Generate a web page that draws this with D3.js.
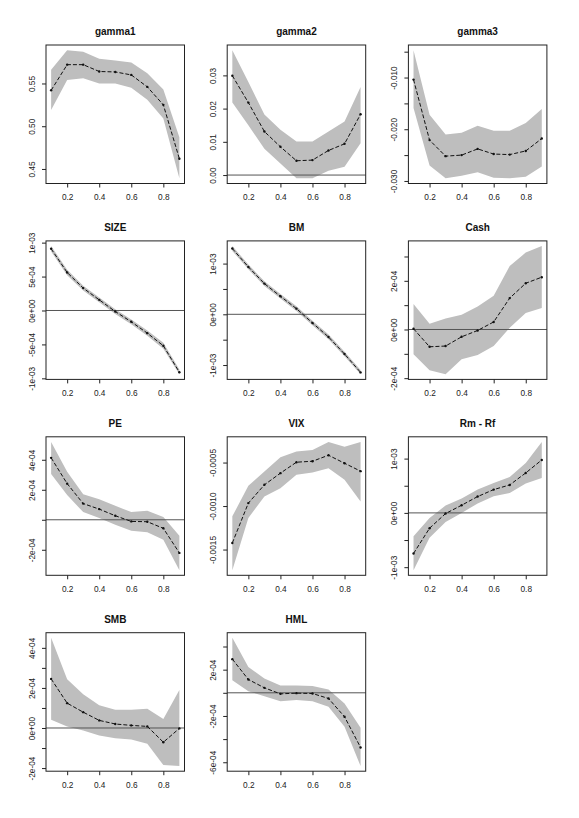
<!DOCTYPE html>
<html>
<head>
<meta charset="utf-8">
<script src="https://cdn.jsdelivr.net/npm/d3@7"></script>
<style>
  body { margin: 0; background: #fff; }
  svg { display: block; font-family: "Liberation Sans", Arial, sans-serif; }
</style>
</head>
<body>
<div id="main"></div>
<script>
// quantile grid shared by every panel
const quantiles = [0.1, 0.2, 0.3, 0.4, 0.5, 0.6, 0.7, 0.8, 0.9];
const xTicks = [0.2, 0.4, 0.6, 0.8];

// estimates, lower and upper band per coefficient
const estGamma1 = [0.542, 0.572, 0.572, 0.564, 0.5635, 0.560, 0.546, 0.525, 0.462];
const hiGamma1  = [0.566, 0.589, 0.587, 0.579, 0.577, 0.5745, 0.562, 0.543, 0.487];
const loGamma1  = [0.519, 0.554, 0.556, 0.550, 0.550, 0.545, 0.531, 0.509, 0.439];

const estGamma2 = [0.0299, 0.0218, 0.0131, 0.0085, 0.0043, 0.0045, 0.0074, 0.0094, 0.0183];
const hiGamma2  = [0.0376, 0.0280, 0.0182, 0.0136, 0.0101, 0.0101, 0.0131, 0.0161, 0.0265];
const loGamma2  = [0.0218, 0.0150, 0.0079, 0.0035, -0.0010, -0.0010, 0.0013, 0.0025, 0.0096];

const estGamma3 = [-0.0104, -0.0221, -0.0252, -0.0250, -0.0238, -0.0248, -0.0249, -0.0242, -0.0218];
const hiGamma3  = [-0.0047, -0.0172, -0.0210, -0.0207, -0.0193, -0.0203, -0.0203, -0.0188, -0.0161];
const loGamma3  = [-0.0159, -0.0270, -0.0295, -0.0290, -0.0283, -0.0294, -0.0295, -0.0292, -0.0272];

const estSize = [9.09e-4, 5.6e-4, 3.3e-4, 1.57e-4, -0.15e-4, -1.67e-4, -3.34e-4, -5.2e-4, -9.1e-4];
const hiSize  = [9.5e-4, 6.0e-4, 3.65e-4, 1.92e-4, 0.2e-4, -1.32e-4, -2.95e-4, -4.75e-4, -8.7e-4];
const loSize  = [8.7e-4, 5.2e-4, 2.95e-4, 1.22e-4, -0.5e-4, -2.02e-4, -3.73e-4, -5.65e-4, -9.4e-4];

const estBM = [1.296e-3, 0.934e-3, 0.605e-3, 0.355e-3, 0.112e-3, -0.171e-3, -0.447e-3, -0.783e-3, -1.145e-3];
const hiBM  = [1.346e-3, 0.98e-3, 0.65e-3, 0.40e-3, 0.157e-3, -0.126e-3, -0.40e-3, -0.738e-3, -1.10e-3];
const loBM  = [1.25e-3, 0.89e-3, 0.56e-3, 0.31e-3, 0.067e-3, -0.216e-3, -0.49e-3, -0.828e-3, -1.182e-3];

const estCash = [0.03e-4, -0.71e-4, -0.68e-4, -0.30e-4, -0.04e-4, 0.31e-4, 1.29e-4, 1.90e-4, 2.15e-4];
const hiCash  = [1.05e-4, 0.24e-4, 0.45e-4, 0.61e-4, 0.95e-4, 1.39e-4, 2.61e-4, 3.16e-4, 3.43e-4];
const loCash  = [-1.02e-4, -1.67e-4, -1.84e-4, -1.22e-4, -1.05e-4, -0.68e-4, 0.07e-4, 0.68e-4, 0.88e-4];

const estPE = [4.13e-4, 2.41e-4, 1.08e-4, 0.71e-4, 0.27e-4, -0.11e-4, -0.13e-4, -0.57e-4, -2.21e-4];
const hiPE  = [5.19e-4, 3.20e-4, 1.70e-4, 1.37e-4, 0.93e-4, 0.51e-4, 0.60e-4, 0.18e-4, -1.06e-4];
const loPE  = [3.05e-4, 1.66e-4, 0.51e-4, 0.11e-4, -0.33e-4, -0.73e-4, -0.84e-4, -1.33e-4, -3.36e-4];

const estVIX = [-1.424e-3, -0.966e-3, -0.756e-3, -0.622e-3, -0.496e-3, -0.485e-3, -0.416e-3, -0.508e-3, -0.599e-3];
const hiVIX  = [-1.118e-3, -0.767e-3, -0.603e-3, -0.439e-3, -0.374e-3, -0.355e-3, -0.263e-3, -0.317e-3, -0.263e-3];
const loVIX  = [-1.737e-3, -1.137e-3, -0.889e-3, -0.794e-3, -0.641e-3, -0.615e-3, -0.565e-3, -0.698e-3, -0.947e-3];

const estRmRf = [-0.748e-3, -0.282e-3, -0.012e-3, 0.141e-3, 0.301e-3, 0.429e-3, 0.515e-3, 0.736e-3, 0.975e-3];
const hiRmRf  = [-0.429e-3, -0.092e-3, 0.135e-3, 0.264e-3, 0.429e-3, 0.552e-3, 0.663e-3, 0.920e-3, 1.307e-3];
const loRmRf  = [-1.055e-3, -0.460e-3, -0.166e-3, 0, 0.172e-3, 0.307e-3, 0.368e-3, 0.540e-3, 0.644e-3];

const estSMB = [2.45e-4, 1.24e-4, 0.79e-4, 0.38e-4, 0.20e-4, 0.13e-4, 0.08e-4, -0.71e-4, -0.02e-4];
const hiSMB  = [4.5e-4, 2.43e-4, 1.69e-4, 1.14e-4, 0.91e-4, 0.91e-4, 0.96e-4, 0.45e-4, 1.90e-4];
const loSMB  = [0.41e-4, 0.08e-4, -0.13e-4, -0.38e-4, -0.51e-4, -0.58e-4, -0.79e-4, -1.85e-4, -1.90e-4];

const estHML = [2.91e-4, 1.15e-4, 0.43e-4, -0.09e-4, -0.03e-4, -0.06e-4, -0.49e-4, -2.07e-4, -4.72e-4];
const hiHML  = [4.75e-4, 2.24e-4, 1.24e-4, 0.63e-4, 0.63e-4, 0.58e-4, 0.29e-4, -0.92e-4, -3.02e-4];
const loHML  = [1.09e-4, 0.14e-4, -0.29e-4, -0.72e-4, -0.63e-4, -0.72e-4, -1.21e-4, -2.94e-4, -6.33e-4];

// y tick values and labels (empty label = tick without text, like R drops them)
const yTicksGamma1 = [0.45, 0.50, 0.55];
const yLabGamma1 = ["0.45", "0.50", "0.55"];
const yTicksGamma2 = [0, 0.01, 0.02, 0.03];
const yLabGamma2 = ["0.00", "0.01", "0.02", "0.03"];
const yTicksGamma3 = [-0.030, -0.025, -0.020, -0.015, -0.010, -0.005];
const yLabGamma3 = ["-0.030", "", "-0.020", "", "-0.010", ""];
const yTicksSize = [-1e-3, -5e-4, 0, 5e-4, 1e-3];
const yLabSize = ["-1e-03", "-5e-04", "0e+00", "5e-04", "1e-03"];
const yTicksBM = [-1e-3, -5e-4, 0, 5e-4, 1e-3];
const yLabBM = ["-1e-03", "", "0e+00", "", "1e-03"];
const yTicksCash = [-2e-4, -1e-4, 0, 1e-4, 2e-4, 3e-4];
const yLabCash = ["-2e-04", "", "0e+00", "", "2e-04", ""];
const yTicksPE = [-2e-4, 0, 2e-4, 4e-4];
const yLabPE = ["-2e-04", "", "2e-04", "4e-04"];
const yTicksVIX = [-0.0015, -0.0010, -0.0005];
const yLabVIX = ["-0.0015", "-0.0010", "-0.0005"];
const yTicksRmRf = [-1e-3, -5e-4, 0, 5e-4, 1e-3];
const yLabRmRf = ["-1e-03", "", "0e+00", "", "1e-03"];
const yTicksSMB = [-2e-4, -1e-4, 0, 1e-4, 2e-4, 3e-4, 4e-4];
const yLabSMB = ["-2e-04", "", "0e+00", "", "2e-04", "", "4e-04"];
const yTicksHML = [-6e-4, -4e-4, -2e-4, 0, 2e-4, 4e-4];
const yLabHML = ["-6e-04", "", "-2e-04", "", "2e-04", ""];

const panels = [
  { title: "gamma1", est: estGamma1, lo: loGamma1, hi: hiGamma1, ticks: yTicksGamma1, labs: yLabGamma1 },
  { title: "gamma2", est: estGamma2, lo: loGamma2, hi: hiGamma2, ticks: yTicksGamma2, labs: yLabGamma2 },
  { title: "gamma3", est: estGamma3, lo: loGamma3, hi: hiGamma3, ticks: yTicksGamma3, labs: yLabGamma3 },
  { title: "SIZE", est: estSize, lo: loSize, hi: hiSize, ticks: yTicksSize, labs: yLabSize },
  { title: "BM", est: estBM, lo: loBM, hi: hiBM, ticks: yTicksBM, labs: yLabBM },
  { title: "Cash", est: estCash, lo: loCash, hi: hiCash, ticks: yTicksCash, labs: yLabCash },
  { title: "PE", est: estPE, lo: loPE, hi: hiPE, ticks: yTicksPE, labs: yLabPE },
  { title: "VIX", est: estVIX, lo: loVIX, hi: hiVIX, ticks: yTicksVIX, labs: yLabVIX },
  { title: "Rm - Rf", est: estRmRf, lo: loRmRf, hi: hiRmRf, ticks: yTicksRmRf, labs: yLabRmRf },
  { title: "SMB", est: estSMB, lo: loSMB, hi: hiSMB, ticks: yTicksSMB, labs: yLabSMB },
  { title: "HML", est: estHML, lo: loHML, hi: hiHML, ticks: yTicksHML, labs: yLabHML }
];

const width = 579;
const height = 818;
const box = 138.5;
const left0 = 46, colStep = 181.2;
const top0 = 45, rowStep = 195.9;

const svg = d3.select('#main')
  .append('svg')
  .attr('width', width)
  .attr('height', height);

// R style 4% padding on both axes
function padded(lo, hi) {
  const d = (hi - lo) * 0.04;
  return [lo - d, hi + d];
}

panels.forEach((p, i) => {
  const col = i % 3, row = Math.floor(i / 3);
  const g = svg.append('g')
    .attr('transform', `translate(${left0 + col * colStep},${top0 + row * rowStep})`);

  const x = d3.scaleLinear()
    .domain(padded(quantiles[0], quantiles[quantiles.length - 1]))
    .range([0, box]);
  const y = d3.scaleLinear()
    .domain(padded(d3.min(p.lo.concat(p.est)), d3.max(p.hi.concat(p.est))))
    .range([box, 0]);

  const rows = quantiles.map((q, k) => ({ q: q, est: p.est[k], lo: p.lo[k], hi: p.hi[k] }));

  // confidence band
  g.append('path')
    .datum(rows)
    .attr('fill', '#bebebe')
    .attr('d', d3.area().x(d => x(d.q)).y0(d => y(d.lo)).y1(d => y(d.hi)));

  // zero reference line
  const yd = y.domain();
  if (yd[0] < 0 && yd[1] > 0) {
    g.append('line')
      .attr('x1', 0).attr('x2', box)
      .attr('y1', y(0)).attr('y2', y(0))
      .attr('stroke', '#555')
      .attr('stroke-width', 1);
  }

  // estimate line + points
  g.append('path')
    .datum(rows)
    .attr('fill', 'none')
    .attr('stroke', '#111')
    .attr('stroke-width', 1)
    .attr('stroke-dasharray', '4,2')
    .attr('d', d3.line().x(d => x(d.q)).y(d => y(d.est)));
  g.selectAll('circle')
    .data(rows)
    .join('circle')
    .attr('cx', d => x(d.q))
    .attr('cy', d => y(d.est))
    .attr('r', 1.2)
    .attr('fill', '#111');

  // axes
  const xa = g.append('g')
    .attr('transform', `translate(0,${box})`)
    .call(d3.axisBottom(x).tickValues(xTicks).tickSize(4).tickPadding(7).tickFormat(d3.format('.1f')));
  const ya = g.append('g')
    .call(d3.axisLeft(y).tickValues(p.ticks).tickSize(4)
      .tickFormat((d, k) => p.labs[k]));
  [xa, ya].forEach(a => {
    a.select('.domain').remove();
    a.selectAll('line').attr('stroke', '#222');
    a.selectAll('text').attr('fill', '#222').attr('font-size', '8.3px')
      .attr('font-family', '"Liberation Sans", Arial, sans-serif');
  });
  ya.selectAll('text')
    .attr('x', null).attr('dy', null)
    .attr('text-anchor', 'middle')
    .attr('transform', 'translate(-11,0) rotate(-90)');

  // frame
  g.append('rect')
    .attr('width', box).attr('height', box)
    .attr('fill', 'none')
    .attr('stroke', '#222')
    .attr('stroke-width', 1);

  g.append('text')
    .attr('x', box / 2)
    .attr('y', -10)
    .attr('text-anchor', 'middle')
    .attr('font-weight', 'bold')
    .attr('font-size', '10px')
    .attr('fill', '#111')
    .text(p.title);
});
</script>
</body>
</html>
